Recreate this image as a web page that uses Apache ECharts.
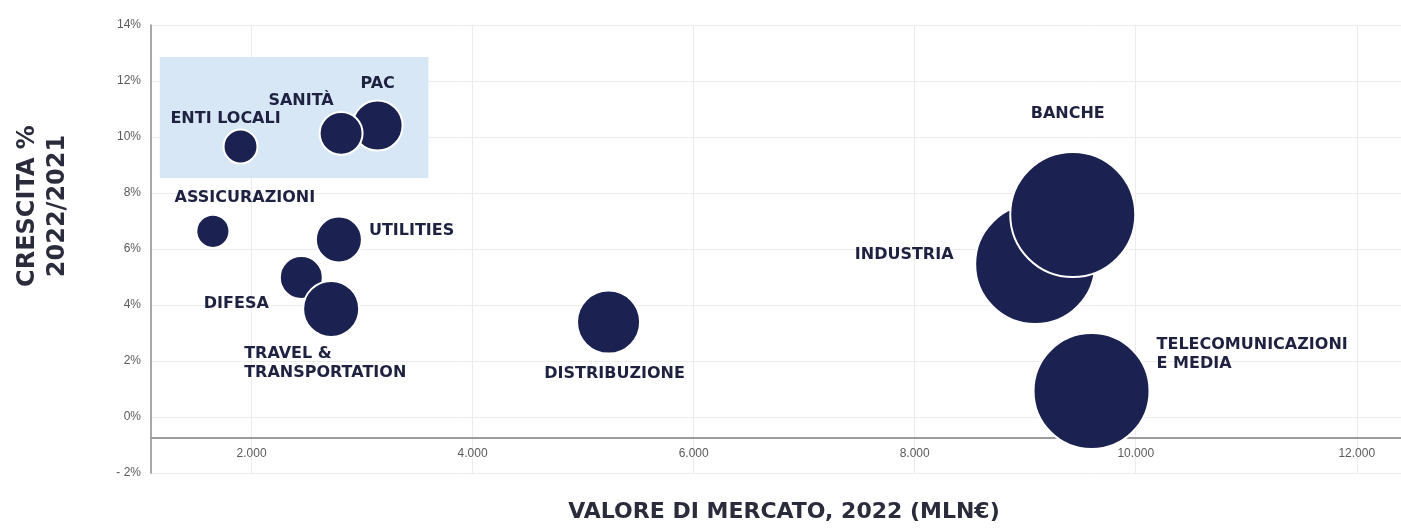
<!DOCTYPE html>
<html>
<head>
<meta charset="utf-8">
<script src="https://cdn.jsdelivr.net/npm/echarts@6/dist/echarts.min.js"></script>
<style>
  html, body { margin: 0; padding: 0; background: #ffffff; }
  #chart { width: 1401px; height: 529px; }
</style>
</head>
<body>
<div id="chart"></div>
<script>
// Settori di mercato: valore 2022 (mln €), crescita 2022/2021 (%), peso della bolla
const settori = ['ENTI LOCALI', 'PAC', 'SANITÀ', 'ASSICURAZIONI', 'UTILITIES', 'DIFESA',
  'TRAVEL &\nTRANSPORTATION', 'DISTRIBUZIONE', 'INDUSTRIA', 'BANCHE', 'TELECOMUNICAZIONI\nE MEDIA'];
const valoreMercato = [1900, 3140, 2810, 1650, 2790, 2450, 2720, 5230, 9090, 9430, 9600];
const crescita = [9.66, 10.41, 10.13, 6.63, 6.34, 4.98, 3.86, 3.39, 5.46, 7.23, 0.93];
const pesoBolla = [8.0, 17.4, 12.8, 7.6, 14.7, 12.8, 21.8, 27.6, 100, 108.5, 93.4];

// Tick labels
const tickX = [2000, 4000, 6000, 8000, 10000, 12000];
const tickY = [-2, 0, 2, 4, 6, 8, 10, 12, 14];

// Highlighted area (public administration cluster)
const areaEvidenza = { x: [1170, 3600], y: [8.54, 12.86] };

// Label placement for each bubble, relative to its centre
const etichette = {
  'ENTI LOCALI': { offset: [-15, -28], align: 'center' },
  'PAC': { offset: [0, -42], align: 'center' },
  'SANITÀ': { offset: [-40, -33], align: 'center' },
  'ASSICURAZIONI': { offset: [32, -34], align: 'center' },
  'UTILITIES': { offset: [30, -9], align: 'left' },
  'DIFESA': { offset: [-65, 26], align: 'center' },
  'TRAVEL &\nTRANSPORTATION': { offset: [-87, 54], align: 'left' },
  'DISTRIBUZIONE': { offset: [6, 52], align: 'center' },
  'INDUSTRIA': { offset: [-131, -9], align: 'center' },
  'BANCHE': { offset: [-5, -101], align: 'center' },
  'TELECOMUNICAZIONI\nE MEDIA': { offset: [65, -37], align: 'left' }
};

const NAVY = '#1b2150';
const fmtMigliaia = v => String(v).replace(/\B(?=(\d{3})+(?!\d))/g, '.');

const dati = settori.map((nome, i) => {
  const lab = etichette[nome];
  return {
    name: nome,
    value: [valoreMercato[i], crescita[i], pesoBolla[i]],
    label: {
      show: true,
      position: 'inside',
      offset: lab.offset,
      align: lab.align,
      verticalAlign: 'middle',
      formatter: '{b}'
    }
  };
});

const chart = echarts.init(document.getElementById('chart'), null, { renderer: 'canvas' });
chart.setOption({
  animation: false,
  backgroundColor: '#ffffff',
  grid: { left: 151, right: 0, top: 25, bottom: 56, containLabel: false },
  xAxis: {
    type: 'value',
    min: 1090,
    max: 12400,
    offset: -35,
    axisLine: { show: true, onZero: false, lineStyle: { color: '#9c9c9c', width: 2 } },
    axisTick: { show: false, customValues: tickX },
    axisLabel: {
      customValues: tickX,
      formatter: v => fmtMigliaia(v),
      color: '#5a5a5a',
      fontFamily: 'Liberation Sans',
      fontSize: 12,
      margin: 10
    },
    splitLine: { show: true, lineStyle: { color: '#ececec', width: 1 } }
  },
  yAxis: {
    type: 'value',
    min: tickY[0],
    max: tickY[tickY.length - 1],
    interval: 2,
    axisLine: { show: true, onZero: false, lineStyle: { color: '#8c8c8c', width: 1.5 } },
    axisTick: { show: false },
    axisLabel: {
      formatter: v => (v < 0 ? '- ' + Math.abs(v) : v) + '%',
      color: '#5a5a5a',
      fontFamily: 'Liberation Sans',
      fontSize: 12,
      margin: 10
    },
    splitLine: { show: true, lineStyle: { color: '#ececec', width: 1 } }
  },
  graphic: [
    {
      type: 'text',
      x: 43,
      y: 206,
      rotation: Math.PI / 2,
      style: {
        text: 'CRESCITA %\n2022/2021',
        fill: '#2a2c3c',
        font: 'bold 24px "DejaVu Sans"',
        textAlign: 'center',
        textVerticalAlign: 'middle',
        lineHeight: 30
      }
    },
    {
      type: 'text',
      x: 784,
      y: 512,
      style: {
        text: 'VALORE DI MERCATO, 2022 (MLN€)',
        fill: '#2a2c3c',
        font: 'bold 22px "DejaVu Sans"',
        textAlign: 'center',
        textVerticalAlign: 'middle'
      }
    }
  ],
  series: [{
    type: 'scatter',
    data: dati,
    symbol: 'circle',
    symbolSize: v => 12 * Math.sqrt(v[2]),
    itemStyle: { color: NAVY, borderColor: '#ffffff', borderWidth: 2, opacity: 1 },
    label: {
      color: '#1e2240',
      fontFamily: 'DejaVu Sans',
      fontWeight: 'bold',
      fontSize: 16,
      lineHeight: 19
    },
    emphasis: { disabled: true },
    markArea: {
      silent: true,
      itemStyle: { color: '#d7e7f6' },
      data: [[
        { xAxis: areaEvidenza.x[0], yAxis: areaEvidenza.y[1] },
        { xAxis: areaEvidenza.x[1], yAxis: areaEvidenza.y[0] }
      ]]
    }
  }]
});
</script>
</body>
</html>
